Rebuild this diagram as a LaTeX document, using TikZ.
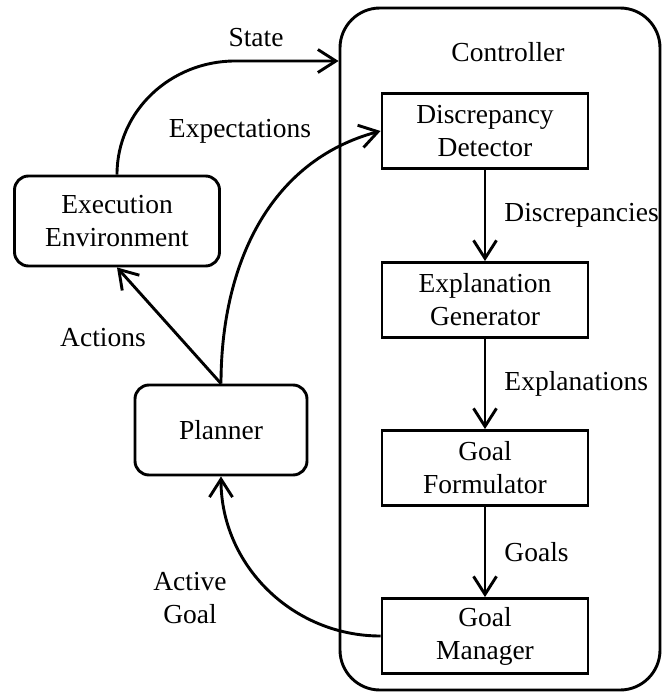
\documentclass[tikz,border=0pt]{standalone}
\usepackage{fontspec}
\setmainfont{Liberation Serif}
\usetikzlibrary{arrows.meta}
\begin{document}
\begin{tikzpicture}[x=1pt,y=1pt, line width=2.9pt,
  font=\fontsize{27.5}{33}\selectfont,
  box/.style={draw, minimum width=206pt, minimum height=75pt, align=center, inner sep=0pt},
  rbox/.style={draw, rounded corners=14pt, align=center, inner sep=0pt},
  arr/.style={-{Straight Barb[length=18pt,width=23pt]}},
  lab/.style={inner sep=0pt, align=center},
  rlab/.style={inner sep=0pt, anchor=west, xshift=18pt}
]
\useasboundingbox (0,0) rectangle (670,-696);
\node[draw, rounded corners=40pt, minimum width=320pt, minimum height=682pt] (ctrl) at (500,-349) {};
\node[lab] (ctrllab) at (508,-52) {Controller};
\node[box] (dd) at (485,-131) {Discrepancy\\Detector};
\node[box] (eg) at (485,-300) {Explanation\\Generator};
\node[box] (gf) at (485,-468) {Goal\\Formulator};
\node[box] (gm) at (485,-636) {Goal\\Manager};
\node[rbox, minimum width=205pt, minimum height=90pt] (env) at (117,-221) {Execution\\Environment};
\node[rbox, minimum width=172pt, minimum height=90pt] (plan) at (221,-430) {Planner};
\coordinate (stateend) at (ctrl.west |- 0,-61);

\draw[arr] (dd) -- node[rlab] {Discrepancies} (eg);
\draw[arr] (eg) -- node[rlab] {Explanations} (gf);
\draw[arr] (gf) -- node[rlab] {Goals} (gm);
\draw[arr] (plan.north) -- (env.south);
\draw[arr] (plan.north) to[out=90,in=195] (dd.west);
\draw[arr] (env.north) to[out=90,in=180] (235,-61) -- (stateend);
\draw[arr] (gm.west) to[out=180,in=-90] (plan.south);

\node[lab] (statelab) at (256,-38) {State};
\node[lab] (explab) at (240,-131) {Expectations};
\node[lab] (actlab) at (103,-338) {Actions};
\node[lab] (aglab) at (190,-598) {Active\\Goal};
\end{tikzpicture}
\end{document}
